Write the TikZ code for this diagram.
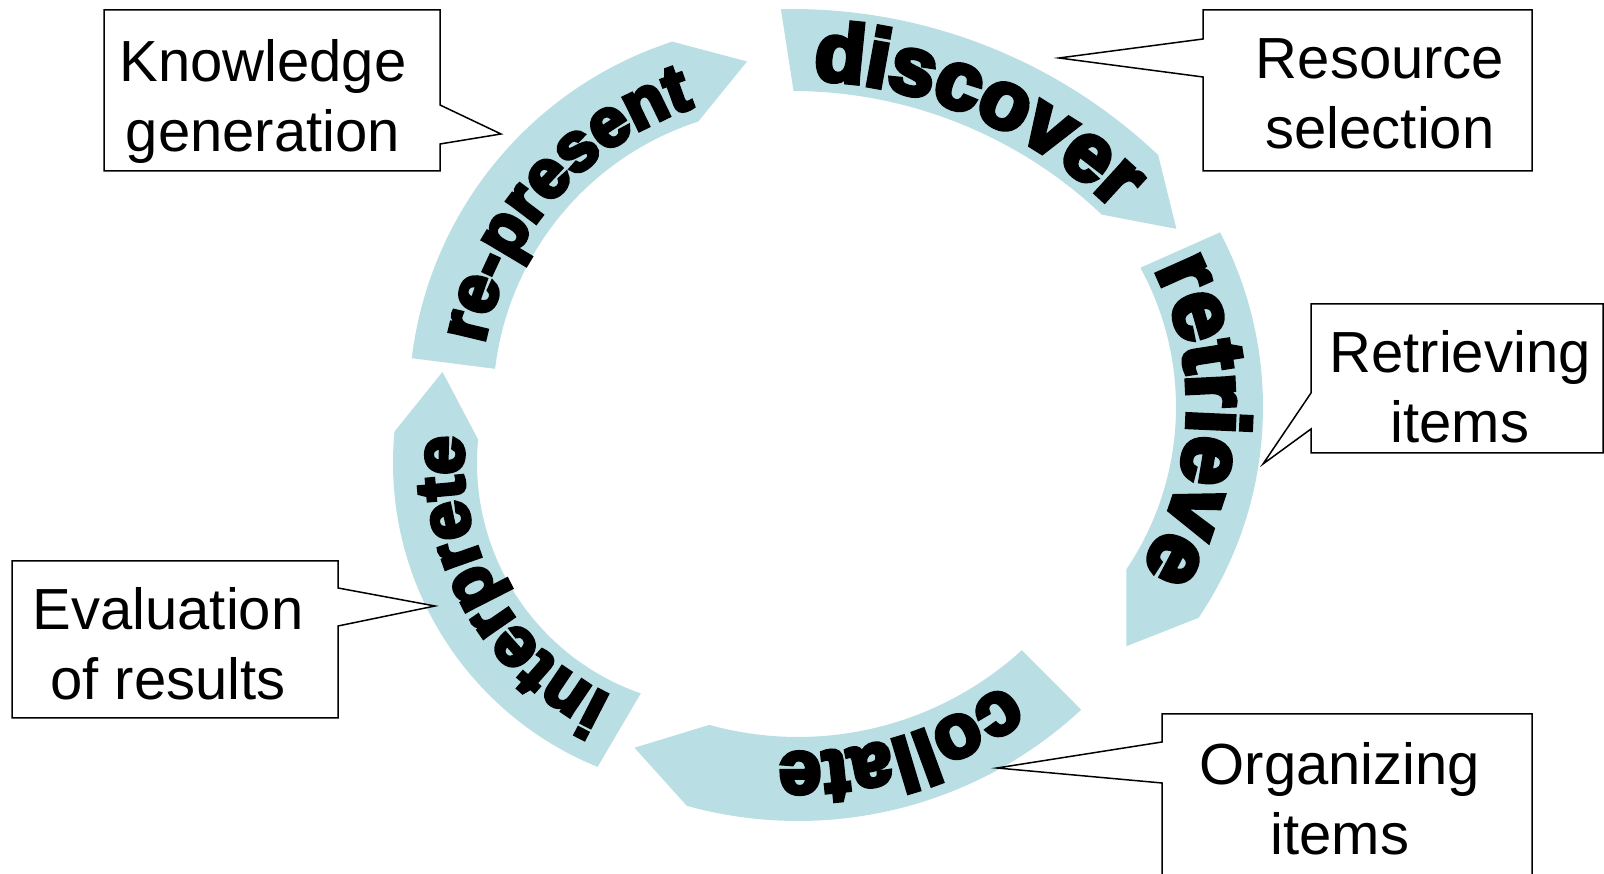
\documentclass[tikz,border=0pt]{standalone}
\usepackage{fontspec}
\setmainfont{Liberation Sans}
\newfontfamily\arcfont{Liberation Sans Bold}[FakeBold=6,LetterSpace=3]
\usetikzlibrary{calc,decorations.text}
\definecolor{arcblue}{RGB}{185,223,228}

\begin{document}
\begin{tikzpicture}[
    x=1pt,y=1pt,
    band/.style={fill=arcblue},
    callout/.style={draw,fill=white,line width=1.5pt,line join=miter},
    note/.style={align=center,font=\fontsize{58}{70}\selectfont},
  ]
  \useasboundingbox (0,0) rectangle (1604,874);

  % centres of the arc pieces
  \coordinate (cdisc) at (792,333);
  \coordinate (cretr) at (886,467);
  \coordinate (ccoll) at (798,469);
  \coordinate (cinte) at (721,411);
  \coordinate (crepr) at (790,470);

  % discover
  \fill[band] ($(cdisc)+(91.2:532pt)$) arc[start angle=91.2,end angle=46.5,radius=532pt]
    -- ($(cdisc)+(46.5:491pt)+(-43.5:64pt)$)
    -- ($(cdisc)+(46.5:450pt)$) arc[start angle=46.5,end angle=89.8,radius=450pt] -- cycle;
  % retrieve
  \fill[band] ($(cretr)+(27.6:377pt)$) arc[start angle=27.6,end angle=-34,radius=377pt]
    -- ($(cretr)+(-34:333pt)+(-124:64pt)$)
    -- ($(cretr)+(-34:290pt)$) arc[start angle=-34,end angle=28.7,radius=290pt] -- cycle;
  % collate
  \fill[band] ($(ccoll)+(-47.1:416pt)$) arc[start angle=-47.1,end angle=-105.5,radius=416pt]
    -- ($(ccoll)+(-105.5:374pt)+(-195.5:66pt)$)
    -- ($(ccoll)+(-105.5:332pt)$) arc[start angle=-105.5,end angle=-47.6,radius=332pt] -- cycle;
  % interprete
  \fill[band] ($(cinte)+(-112.1:328pt)$) arc[start angle=-112.1,end angle=-185.5,radius=328pt]
    -- ($(cinte)+(-185.5:286pt)+(-275.5:64pt)$)
    -- ($(cinte)+(-185.5:244pt)$) arc[start angle=-185.5,end angle=-109.2,radius=244pt] -- cycle;
  % re-present
  \fill[band] ($(crepr)+(173.1:381pt)$) arc[start angle=173.1,end angle=108,radius=381pt]
    -- ($(crepr)+(108:339pt)+(18:65pt)$)
    -- ($(crepr)+(108:297pt)$) arc[start angle=108,end angle=173.2,radius=297pt] -- cycle;

  % words along the arcs
  \path[decorate,decoration={text along path,text align=center,
      text={|\arcfont\fontsize{82}{82}\selectfont|discover}}]
    ($(cdisc)+(101.5:462pt)$) arc[start angle=101.5,end angle=31.5,radius=462pt];
  \path[decorate,decoration={text along path,text align=center,
      text={|\arcfont\fontsize{87}{87}\selectfont|retrieve}}]
    ($(cretr)+(37.4:302pt)$) arc[start angle=37.4,end angle=-42.6,radius=302pt];
  \path[decorate,decoration={text along path,text align=center,
      text={|\arcfont\fontsize{76}{76}\selectfont|collate}}]
    ($(ccoll)+(-38.3:348pt)$) arc[start angle=-38.3,end angle=-108.3,radius=348pt];
  \path[decorate,decoration={text along path,text align=center,
      text={|\arcfont\fontsize{69}{69}\selectfont|interprete}}]
    ($(cinte)+(-105.5:258pt)$) arc[start angle=-105.5,end angle=-195.5,radius=258pt];
  \path[decorate,decoration={text along path,text align=center,
      text={|\arcfont\fontsize{68}{68}\selectfont|re-present}}]
    ($(crepr)+(183.4:312pt)$) arc[start angle=183.4,end angle=93.4,radius=312pt];

  % callout boxes
  \coordinate (tipknow) at (501,740);
  \draw[callout] (104,864) -- (440,864) -- (440,769) -- (tipknow) -- (440,730)
    -- (440,703) -- (104,703) -- cycle;
  \node[note] (know) at (263,772) {Knowledge\\generation};

  \coordinate (tipres) at (1059,816);
  \draw[callout] (1203,864) -- (1532,864) -- (1532,703) -- (1203,703) -- (1203,797)
    -- (tipres) -- (1203,835) -- cycle;
  \node[note] (res) at (1380,780) {Resource\\selection};

  \coordinate (tipret) at (1263,410);
  \draw[callout] (1311,570) -- (1603,570) -- (1603,421) -- (1311,421) -- (1311,445)
    -- (tipret) -- (1311,481) -- cycle;
  \node[note] (ret) at (1460,487) {Retrieving\\items};

  \coordinate (tipeval) at (435,268);
  \draw[callout] (12,313) -- (338,313) -- (338,286) -- (tipeval) -- (338,248)
    -- (338,156) -- (12,156) -- cycle;
  \node[note] (eval) at (168,230) {Evaluation\\of results};

  \coordinate (tiporg) at (997,106);
  \draw[callout] (1162,160) -- (1532,160) -- (1532,-5) -- (1162,-5) -- (1162,91)
    -- (tiporg) -- (1162,132) -- cycle;
  \node[note] (org) at (1340,75) {Organizing\\items};
\end{tikzpicture}
\end{document}
